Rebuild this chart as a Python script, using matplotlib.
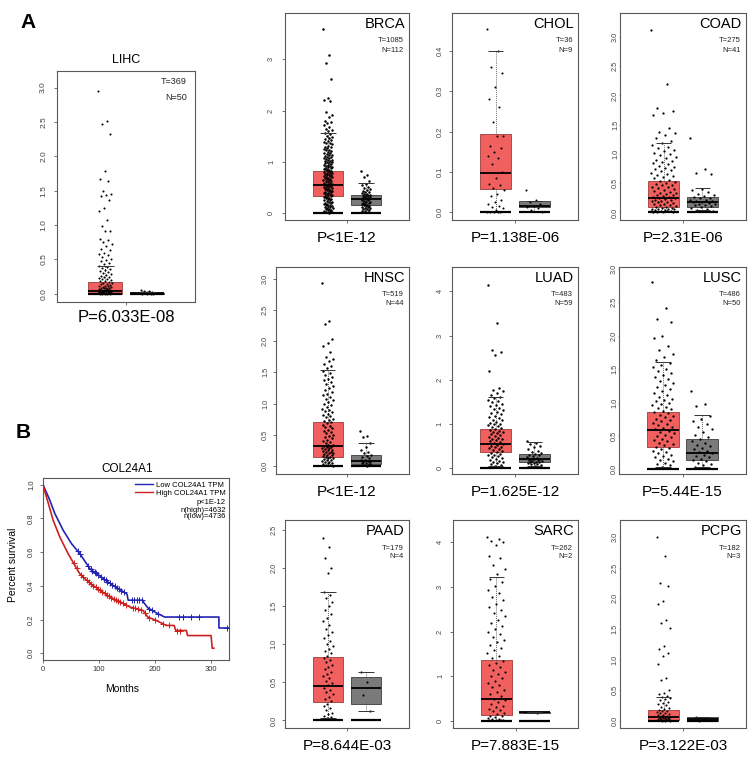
import numpy as np
import matplotlib.pyplot as plt
from matplotlib.lines import Line2D

plt.rcParams['font.family'] = ['Liberation Sans', 'DejaVu Sans']


def vals(s):
    return np.array(s.split(), dtype=float)


# ---------------- data ----------------
cancers = ['LIHC', 'BRCA', 'CHOL', 'COAD', 'HNSC', 'LUAD', 'LUSC', 'PAAD', 'SARC', 'PCPG']
n_tumor = [369, 1085, 36, 275, 519, 483, 486, 179, 262, 182]
n_normal = [50, 112, 9, 41, 44, 59, 50, 4, 2, 3]
p_labels = ['P=6.033E-08', 'P<1E-12', 'P=1.138E-06', 'P=2.31E-06', 'P<1E-12',
            'P=1.625E-12', 'P=5.44E-15', 'P=8.644E-03', 'P=7.883E-15', 'P=3.122E-03']

# box statistics (tumor / normal)
t_q1 = [0.00, 0.33, 0.057, 0.096, 0.15, 0.36, 0.34, 0.235, 0.13, 0.01]
t_med = [0.04, 0.55, 0.097, 0.25, 0.32, 0.55, 0.59, 0.445, 0.50, 0.066]
t_q3 = [0.17, 0.83, 0.194, 0.535, 0.70, 0.88, 0.86, 0.83, 1.36, 0.175]
t_lo = [0.0, 0.0, 0.0, 0.0, 0.0, 0.05, 0.04, 0.03, 0.02, 0.0]
t_hi = [0.41, 1.57, 0.40, 1.18, 1.53, 1.62, 1.60, 1.69, 3.22, 0.38]
n_q1 = [0.0, 0.16, 0.012, 0.096, 0.03, 0.135, 0.14, 0.22, 0.175, 0.0]
n_med = [0.008, 0.27, 0.015, 0.17, 0.08, 0.20, 0.24, 0.42, 0.19, 0.03]
n_q3 = [0.015, 0.36, 0.027, 0.256, 0.18, 0.32, 0.46, 0.57, 0.20, 0.06]
n_lo = [0.0, 0.03, 0.0, 0.04, 0.0, 0.06, 0.04, 0.12, 0.18, 0.0]
n_hi = [0.03, 0.59, 0.027, 0.41, 0.365, 0.60, 0.81, 0.64, 0.20, 0.06]

# sample points (log2(TPM+1))
lihc_t = vals("2.95 2.52 2.47 2.33 1.78 1.67 1.64 1.50 1.45 1.43 1.42 1.36 1.25 1.21 1.08 0.98 0.92 0.91 "
              "0.80 0.78 0.76 0.72 0.70 0.65 0.63 0.60 0.58 0.56 0.53 0.51 0.49 0.47 0.45 0.43 0.41 0.39 "
              "0.37 0.36 0.34 0.33 0.31 0.30 0.29 0.27 0.26 0.25 0.24 0.23 0.22 0.21 0.20 0.19 0.18 0.17 "
              "0.16 0.15 0.14 0.14 0.13 0.12 0.12 0.11 0.10 0.10 0.09 0.09 0.08 0.08 0.07 0.07 0.06 0.06 "
              "0.05 0.05 0.05 0.04 0.04 0.04 0.03 0.03 0.03 0.02 0.02 0.02 0.02 0.01 0.01 0.01 0.01 0.01 "
              "0.00 0.00 0.00 0.00 0.00")
lihc_n = vals("0.05 0.04 0.035 0.03 0.03 0.025 0.02 0.02 0.015 0.015 0.01 0.01 0.01 0.008 0.005 0.005 "
              "0.003 0.002 0.001 0.00")
brca_t = vals("3.58 3.08 2.92 2.62 2.25 2.20 2.18 1.98 1.92 1.88 1.80 1.78 1.75 1.72 1.68 1.65 1.62 1.60 "
              "1.56 1.54 1.51 1.49 1.47 1.45 1.43 1.41 1.39 1.37 1.36 1.34 1.32 1.30 1.29 1.27 1.26 1.24 "
              "1.23 1.21 1.20 1.18 1.17 1.16 1.14 1.13 1.12 1.10 1.09 1.08 1.07 1.05 1.04 1.03 1.02 1.01 "
              "1.00 0.99 0.98 0.97 0.96 0.95 0.94 0.93 0.92 0.91 0.90 0.89 0.88 0.87 0.86 0.85 0.84 0.83 "
              "0.82 0.81 0.80 0.79 0.78 0.77 0.76 0.75 0.74 0.73 0.72 0.71 0.70 0.69 0.68 0.67 0.66 0.65 "
              "0.64 0.63 0.62 0.61 0.60 0.59 0.58 0.57 0.56 0.55 0.54 0.53 0.52 0.51 0.50 0.49 0.48 0.47 "
              "0.46 0.45 0.44 0.43 0.42 0.41 0.40 0.39 0.38 0.37 0.36 0.35 0.34 0.33 0.32 0.31 0.30 0.29 "
              "0.28 0.27 0.26 0.25 0.24 0.23 0.22 0.21 0.20 0.19 0.18 0.17 0.16 0.15 0.14 0.13 0.12 0.11 "
              "0.10 0.09 0.08 0.07 0.06 0.05 0.04 0.03 0.02 0.01")
brca_n = vals("0.83 0.75 0.70 0.62 0.58 0.55 0.52 0.50 0.48 0.46 0.44 0.42 0.41 0.40 0.38 0.37 0.36 0.35 "
              "0.34 0.33 0.32 0.31 0.30 0.29 0.28 0.27 0.26 0.25 0.24 0.23 0.22 0.21 0.20 0.19 0.18 0.17 "
              "0.16 0.15 0.14 0.13 0.12 0.11 0.10 0.09 0.08 0.06 0.05 0.04 0.03")
chol_t = vals("0.455 0.40 0.36 0.345 0.31 0.28 0.26 0.225 0.19 0.188 0.165 0.16 0.15 0.14 0.135 0.12 0.10 "
              "0.085 0.07 0.068 0.06 0.055 0.045 0.04 0.03 0.025 0.02 0.015 0.012 0.01 0.005 0.0 0.0 0.0 0.0 0.0")
chol_n = vals("0.055 0.03 0.025 0.02 0.015 0.012 0.01 0.005 0.0")
coad_t = vals("3.12 2.20 1.78 1.74 1.70 1.67 1.45 1.38 1.35 1.32 1.28 1.22 1.18 1.15 1.12 1.10 1.07 1.05 "
              "1.02 1.00 0.98 0.95 0.93 0.90 0.88 0.86 0.84 0.82 0.80 0.78 0.76 0.74 0.72 0.70 0.68 0.66 "
              "0.64 0.62 0.60 0.58 0.56 0.54 0.52 0.50 0.49 0.47 0.46 0.44 0.43 0.41 0.40 0.38 0.37 0.35 "
              "0.34 0.33 0.31 0.30 0.29 0.28 0.27 0.26 0.25 0.24 0.23 0.22 0.21 0.20 0.19 0.18 0.17 0.16 "
              "0.15 0.14 0.13 0.12 0.11 0.10 0.09 0.08 0.07 0.06 0.06 0.05 0.05 0.04 0.04 0.03 0.03 0.02 "
              "0.02 0.01 0.01 0.00 0.00")
coad_n = vals("1.27 0.75 0.68 0.65 0.40 0.38 0.35 0.32 0.30 0.28 0.26 0.25 0.24 0.22 0.21 0.20 0.19 0.18 "
              "0.17 0.16 0.15 0.14 0.13 0.12 0.11 0.10 0.08 0.06 0.04 0.03")
hnsc_t = vals("2.93 2.33 2.28 2.04 1.97 1.93 1.82 1.75 1.72 1.68 1.63 1.60 1.57 1.52 1.49 1.46 1.43 1.40 "
              "1.37 1.34 1.31 1.28 1.25 1.22 1.19 1.16 1.13 1.10 1.07 1.05 1.02 1.00 0.97 0.95 0.92 0.90 "
              "0.88 0.86 0.84 0.82 0.80 0.78 0.76 0.74 0.72 0.70 0.68 0.66 0.64 0.62 0.60 0.58 0.56 0.54 "
              "0.52 0.50 0.48 0.46 0.44 0.42 0.40 0.38 0.36 0.34 0.33 0.32 0.31 0.30 0.29 0.28 0.27 0.26 "
              "0.25 0.24 0.23 0.22 0.21 0.20 0.19 0.18 0.17 0.16 0.15 0.14 0.13 0.12 0.11 0.10 0.09 0.08 "
              "0.07 0.06 0.05 0.04 0.03 0.02 0.01 0.00")
hnsc_n = vals("0.56 0.48 0.46 0.36 0.30 0.25 0.22 0.20 0.18 0.16 0.14 0.12 0.10 0.09 0.08 0.07 0.06 0.05 "
              "0.04 0.03 0.02 0.01 0.00")
luad_t = vals("4.15 3.28 2.68 2.62 2.57 2.20 1.82 1.78 1.75 1.70 1.66 1.61 1.58 1.55 1.52 1.49 1.46 1.43 "
              "1.40 1.37 1.34 1.31 1.28 1.25 1.22 1.19 1.16 1.13 1.10 1.08 1.05 1.03 1.01 0.99 0.97 0.95 "
              "0.93 0.91 0.89 0.87 0.85 0.83 0.81 0.79 0.77 0.75 0.73 0.71 0.69 0.67 0.65 0.63 0.61 0.59 "
              "0.57 0.55 0.53 0.51 0.49 0.47 0.45 0.43 0.41 0.39 0.37 0.35 0.33 0.31 0.29 0.27 0.25 0.23 "
              "0.21 0.19 0.17 0.15 0.13 0.11 0.09 0.07 0.05")
luad_n = vals("0.62 0.58 0.55 0.50 0.47 0.44 0.40 0.37 0.35 0.33 0.31 0.29 0.27 0.25 0.23 0.22 0.21 0.20 "
              "0.19 0.18 0.17 0.16 0.15 0.14 0.13 0.12 0.11 0.10 0.09 0.07 0.06")
lusc_t = vals("2.80 2.42 2.25 2.20 2.00 1.97 1.85 1.78 1.72 1.68 1.64 1.59 1.56 1.53 1.50 1.47 1.44 1.41 "
              "1.38 1.35 1.32 1.29 1.26 1.23 1.20 1.17 1.14 1.11 1.08 1.06 1.04 1.02 1.00 0.98 0.96 0.94 "
              "0.92 0.90 0.88 0.86 0.84 0.82 0.80 0.78 0.76 0.74 0.72 0.70 0.68 0.66 0.64 0.62 0.60 0.58 "
              "0.56 0.54 0.52 0.50 0.48 0.46 0.44 0.42 0.40 0.38 0.36 0.34 0.32 0.30 0.28 0.26 0.24 0.22 "
              "0.20 0.18 0.16 0.14 0.12 0.10 0.08 0.06 0.04")
lusc_n = vals("1.18 0.98 0.95 0.80 0.76 0.72 0.68 0.64 0.60 0.56 0.52 0.48 0.45 0.42 0.40 0.37 0.35 0.32 "
              "0.30 0.28 0.26 0.24 0.22 0.20 0.18 0.16 0.14 0.12 0.10 0.08 0.06 0.04")
paad_t = vals("2.40 2.27 2.13 2.00 1.93 1.68 1.64 1.60 1.55 1.50 1.45 1.40 1.35 1.30 1.25 1.20 1.16 1.12 "
              "1.08 1.04 1.00 0.97 0.94 0.91 0.88 0.85 0.82 0.79 0.76 0.73 0.70 0.67 0.64 0.61 0.58 0.55 "
              "0.52 0.49 0.46 0.43 0.40 0.37 0.34 0.31 0.28 0.25 0.22 0.19 0.16 0.13 0.10 0.08 0.06 0.04 0.03")
paad_n = vals("0.64 0.50 0.33 0.12")
sarc_t = vals("4.12 4.08 4.03 4.00 3.95 3.70 3.65 3.50 3.40 3.30 3.18 3.10 3.02 2.94 2.86 2.78 2.70 2.62 "
              "2.55 2.48 2.41 2.34 2.27 2.20 2.13 2.06 2.00 1.94 1.88 1.82 1.76 1.70 1.64 1.58 1.52 1.46 "
              "1.40 1.35 1.30 1.25 1.20 1.15 1.10 1.05 1.00 0.95 0.90 0.85 0.80 0.75 0.70 0.65 0.60 0.55 "
              "0.50 0.46 0.42 0.38 0.34 0.30 0.27 0.24 0.21 0.18 0.15 0.12 0.10 0.08 0.06 0.05 0.04 0.03 "
              "0.02 0.02 0.01")
sarc_n = vals("0.20 0.18")
pcpg_t = vals("3.01 2.69 2.25 2.20 1.95 1.90 1.65 1.60 1.52 1.22 1.17 1.10 1.05 0.93 0.70 0.66 0.50 0.46 "
              "0.43 0.41 0.39 0.37 0.35 0.33 0.31 0.29 0.27 0.25 0.23 0.21 0.19 0.17 0.16 0.15 0.14 0.13 "
              "0.12 0.11 0.10 0.09 0.08 0.07 0.06 0.05 0.05 0.04 0.04 0.03 0.03 0.02 0.02 0.01 0.01 0.01 "
              "0.00 0.00 0.00")
pcpg_n = vals("0.06 0.03 0.00")

tumor_pts = [lihc_t, brca_t, chol_t, coad_t, hnsc_t, luad_t, lusc_t, paad_t, sarc_t, pcpg_t]
normal_pts = [lihc_n, brca_n, chol_n, coad_n, hnsc_n, luad_n, lusc_n, paad_n, sarc_n, pcpg_n]

yticks = [[0, 0.5, 1.0, 1.5, 2.0, 2.5, 3.0], [0, 1, 2, 3], [0, 0.1, 0.2, 0.3, 0.4],
          [0, 0.5, 1.0, 1.5, 2.0, 2.5, 3.0], [0, 0.5, 1.0, 1.5, 2.0, 2.5, 3.0], [0, 1, 2, 3, 4],
          [0, 0.5, 1.0, 1.5, 2.0, 2.5, 3.0], [0, 0.5, 1.0, 1.5, 2.0, 2.5], [0, 1, 2, 3, 4],
          [0, 0.5, 1.0, 1.5, 2.0, 2.5, 3.0]]
ytick_fmt = ['%.1f', '%d', '%.1f', '%.1f', '%.1f', '%d', '%.1f', '%.1f', '%d', '%.1f']

# survival curves (months, percent survival)
low_t = [0, 6, 12, 21, 36, 51, 66, 84, 101, 113, 131, 146, 150, 152, 178, 180, 187, 202, 217, 314, 314, 332]
low_s = [1.0, 0.955, 0.91, 0.83, 0.73, 0.65, 0.59, 0.50, 0.46, 0.43, 0.39, 0.36, 0.35, 0.315, 0.315, 0.30,
         0.27, 0.24, 0.215, 0.215, 0.15, 0.15]
high_t = [0, 5, 9.5, 18, 30, 45, 66, 84, 101, 119, 137, 155, 178, 187, 202, 220, 234, 237, 256, 258, 300, 302, 305]
high_s = [1.0, 0.94, 0.89, 0.79, 0.69, 0.59, 0.47, 0.415, 0.375, 0.335, 0.305, 0.275, 0.255, 0.215, 0.195,
          0.165, 0.165, 0.135, 0.135, 0.105, 0.105, 0.03, 0.03]
low_cens = [62, 66, 80, 85, 88, 92, 95, 98, 104, 108, 112, 115, 120, 124, 128, 132, 136, 140, 145, 158,
            163, 168, 172, 176, 190, 195, 205, 243, 249, 265, 279, 328]
high_cens = [55, 60, 68, 72, 78, 82, 86, 90, 94, 98, 102, 106, 110, 114, 118, 122, 126, 130, 134, 138,
             142, 148, 160, 165, 170, 175, 182, 190, 200, 215, 225, 240, 245]
legend_labels = ['Low COL24A1 TPM', 'High COL24A1 TPM']
surv_notes = ['p<1E-12', 'n(high)=4632', 'n(low)=4736']

# ---------------- layout / style ----------------
W, H = 753, 764
fig = plt.figure(figsize=(W / 100, H / 100), dpi=100)
fig.patch.set_facecolor('white')


def add_ax(x0, y0, x1, y1):
    return fig.add_axes([x0 / W, 1 - y1 / H, (x1 - x0) / W, (y1 - y0) / H])


boxes_px = [(57, 71, 195, 302), (285, 13, 409, 220), (452, 13, 578, 220), (620, 13, 746, 220),
            (276, 267, 409, 474), (452, 267, 578, 474), (619, 267, 746, 474),
            (285, 520, 409, 728), (453, 520, 578, 728), (620, 520, 746, 728)]
xlows = [-0.14, -0.13, -0.13, -0.13, -0.36, -0.13, -0.13, -0.13, -0.13, -0.13]
ylims = [(-0.12, 3.24), (-0.13, 3.9), (-0.019, 0.494), (-0.13, 3.41), (-0.13, 3.19),
         (-0.13, 4.55), (-0.07, 3.03), (-0.1, 2.63), (-0.16, 4.5), (-0.12, 3.28)]
jit = [0.16, 0.12, 0.22, 0.33, 0.15, 0.2, 0.28, 0.13, 0.24, 0.17]
label_gap = [14, 13.6, 12.3, 4.3, 10.7, 12.3, 3.6, 11, 12.7, 5]
dot_size = [2.2, 3.2, 2.2, 2.6, 3.0, 3.0, 2.8, 2.4, 2.4, 2.2]

RED = '#f0605e'
GREY = '#7a7a7a'
SPINE = '#5a5a5a'
PX = 0.72  # points per pixel at 100 dpi

for i, name in enumerate(cancers):
    x0, y0, x1, y1 = boxes_px[i]
    ax = add_ax(x0, y0, x1, y1)
    big = (i == 0)
    stats = [dict(q1=t_q1[i], med=t_med[i], q3=t_q3[i], whislo=t_lo[i], whishi=t_hi[i], fliers=[]),
             dict(q1=n_q1[i], med=n_med[i], q3=n_q3[i], whislo=n_lo[i], whishi=n_hi[i], fliers=[])]
    bp = ax.bxp(stats, positions=[1, 2], widths=0.8, patch_artist=True, showcaps=False,
                boxprops=dict(lw=0.6), zorder=1,
                whiskerprops=dict(color='#333333', lw=0.6, ls=(0, (1, 1.5))),
                medianprops=dict(color='black', lw=1.3, zorder=4))
    bp['boxes'][0].set(facecolor=RED, edgecolor='#9c3c3c')
    bp['boxes'][1].set(facecolor=GREY, edgecolor='#3c3c3c')

    for pos, pts in ((1, tumor_pts[i]), (2, normal_pts[i])):
        off = ((np.arange(len(pts)) * 0.6180339887) % 1.0 - 0.5) * 2 * jit[i]
        ax.scatter(pos + off, pts, s=dot_size[i], c='black', linewidths=0, zorder=3)

    for pos, lo, hi in ((1, t_lo[i], t_hi[i]), (2, n_lo[i], n_hi[i])):
        ax.hlines(hi, pos - 0.2, pos + 0.2, color='#333333', lw=0.7, zorder=4)
        if lo > 0:
            ax.hlines(lo, pos - 0.2, pos + 0.2, color='#333333', lw=0.7, zorder=4)
        ax.hlines(0, pos - 0.4, pos + 0.4, color='black', lw=1.6, zorder=4)

    ax.set_xlim(xlows[i], 3.13)
    ax.set_ylim(*ylims[i])
    ax.set_xticks([1.5])
    ax.set_xticklabels([])
    ax.set_yticks(yticks[i])
    ax.set_yticklabels([ytick_fmt[i] % v for v in yticks[i]])
    fs = 6 if big else 5.3
    half = fs / PX * 0.5
    tlen = 3 if label_gap[i] > 8 else 0.8
    pad = max(label_gap[i] - tlen - half, 0.2)
    ax.tick_params(axis='y', labelsize=fs, labelrotation=90, length=tlen * PX, pad=pad * PX,
                   width=0.6, color=SPINE, labelcolor='#444444')
    ax.tick_params(axis='x', length=3 * PX, width=0.6, color=SPINE)
    for lab in ax.get_yticklabels():
        lab.set_va('center')
    for sp in ax.spines.values():
        sp.set_color(SPINE)
        sp.set_linewidth(0.8)

    hgt = y1 - y0
    wid = x1 - x0
    if big:
        ax.text(0.5, 1 + 11 / hgt, name, transform=ax.transAxes, ha='center', va='center', fontsize=9)
        ax.text(1 - 8 / wid, 1 - 11 / hgt, 'T=%d' % n_tumor[i], transform=ax.transAxes,
                ha='right', va='center', fontsize=6.5, color='#222222')
        ax.text(1 - 8 / wid, 1 - 26 / hgt, 'N=%d' % n_normal[i], transform=ax.transAxes,
                ha='right', va='center', fontsize=6.5, color='#222222')
        pfs, poff = 12, 16
    else:
        ax.text(1 - 4 / wid, 1 - 11 / hgt, name, transform=ax.transAxes, ha='right', va='center',
                fontsize=10.5)
        ax.text(1 - 5 / wid, 1 - 28 / hgt, 'T=%d' % n_tumor[i], transform=ax.transAxes,
                ha='right', va='center', fontsize=5.5, color='#222222')
        ax.text(1 - 5 / wid, 1 - 37 / hgt, 'N=%d' % n_normal[i], transform=ax.transAxes,
                ha='right', va='center', fontsize=5.5, color='#222222')
        pfs, poff = 11, 18
    ax.annotate(p_labels[i], xy=(1.5, 0), xycoords=('data', 'axes fraction'),
                xytext=(0, -poff * PX), textcoords='offset points', ha='center', va='center',
                fontsize=pfs)

# ---------------- survival panel ----------------
BLUE = '#2424b4'
REDL = '#cf2020'
sx0, sy0, sx1, sy1 = 43, 478, 229, 660
ax = add_ax(sx0, sy0, sx1, sy1)
ax.plot(low_t, low_s, color=BLUE, lw=1.2, zorder=3)
ax.plot(high_t, high_s, color=REDL, lw=1.2, zorder=3)
ax.plot(low_cens, np.interp(low_cens, low_t, low_s), '+', color=BLUE, ms=4, mew=0.7, zorder=3)
ax.plot(high_cens, np.interp(high_cens, high_t, high_s), '+', color=REDL, ms=4, mew=0.7, zorder=3)
ax.set_xlim(0, 332)
ax.set_ylim(-0.04, 1.04)
ax.set_xticks([0, 100, 200, 300])
ax.set_yticks([0, 0.2, 0.4, 0.6, 0.8, 1.0])
ax.set_yticklabels(['%.1f' % v for v in [0, 0.2, 0.4, 0.6, 0.8, 1.0]])
ax.tick_params(axis='both', labelsize=5.5, length=3 * PX, width=0.6, color=SPINE, labelcolor='#333333')
ax.tick_params(axis='y', labelrotation=90, pad=5 * PX)
ax.tick_params(axis='x', pad=3 * PX)
for lab in ax.get_yticklabels():
    lab.set_va('center')
for sp in ax.spines.values():
    sp.set_color(SPINE)
    sp.set_linewidth(0.8)
handles = [Line2D([], [], color=BLUE, lw=1.0), Line2D([], [], color=REDL, lw=1.0)]
ax.legend(handles, legend_labels, loc='upper right', bbox_to_anchor=(1.0, 1.0), frameon=False,
          fontsize=5.5, handlelength=2.3, handletextpad=0.4, borderaxespad=0.25, labelspacing=0.12,
          borderpad=0.2)
sw, sh = sx1 - sx0, sy1 - sy0
for k, (txt, yp) in enumerate(zip(surv_notes, [502.3, 510, 516.7])):
    ax.text(1 - 3 / sw, (sy1 - yp) / sh, txt, transform=ax.transAxes, ha='right', va='center', fontsize=5.5)
ax.text((127 - sx0) / sw, (sy1 - 469) / sh, 'COL24A1', transform=ax.transAxes, ha='center', va='center',
        fontsize=8.5)
ax.text((122 - sx0) / sw, (sy1 - 689) / sh, 'Months', transform=ax.transAxes, ha='center', va='center',
        fontsize=7.5)
ax.text((13 - sx0) / sw, (sy1 - 565) / sh, 'Percent survival', transform=ax.transAxes, ha='center',
        va='center', fontsize=7.5, rotation=90)

fig.text(28 / W, 1 - 22 / H, 'A', fontsize=15, fontweight='bold', ha='center', va='center')
fig.text(23 / W, 1 - 433 / H, 'B', fontsize=15, fontweight='bold', ha='center', va='center')

fig.savefig('out.png', dpi=100, facecolor='white')
